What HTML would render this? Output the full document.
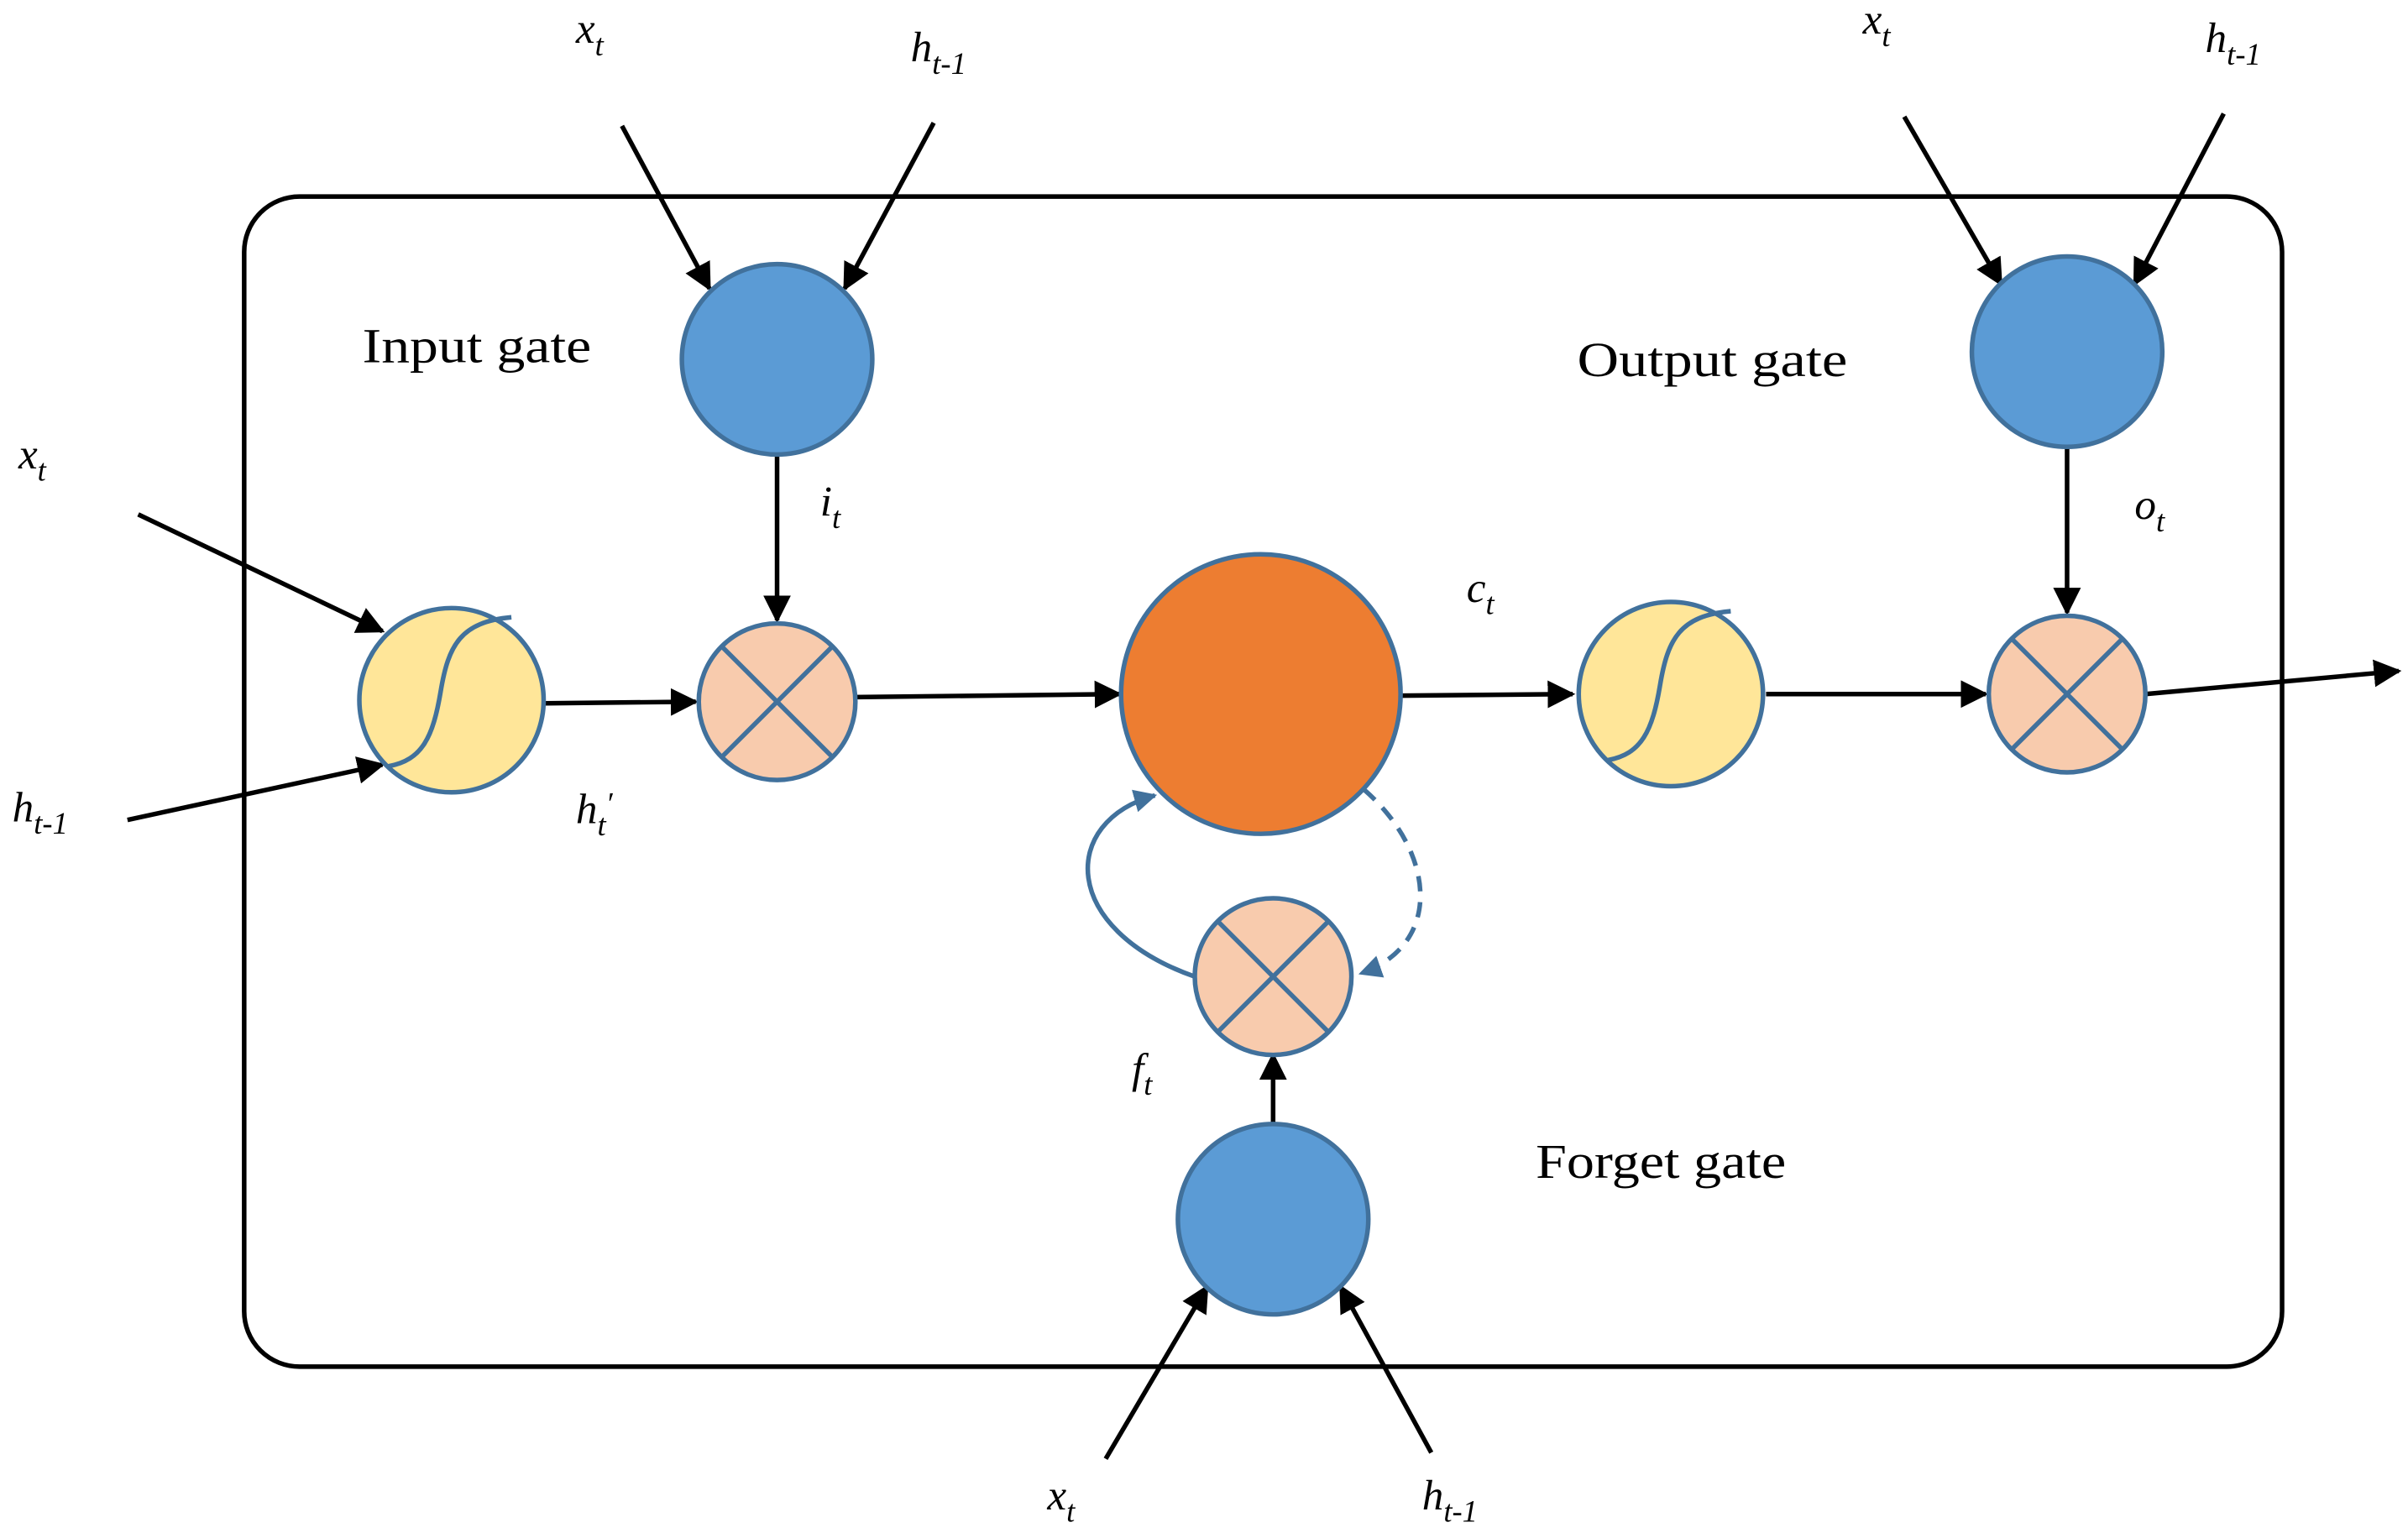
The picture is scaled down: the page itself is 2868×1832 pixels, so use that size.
<!DOCTYPE html>
<html><head><meta charset="utf-8"><style>
html,body{margin:0;padding:0;background:#fff;}
svg{display:block;}
text{font-family:"Liberation Serif",serif;fill:#000;}
.it{font-style:italic;font-size:28px;}
.sub{font-style:italic;font-size:20px;}
.lab{font-size:32px;}
</style></head><body>
<svg width="2868" height="1832" viewBox="0 0 1568 1001.6" preserveAspectRatio="none" xmlns="http://www.w3.org/2000/svg">
<defs>
<marker id="ah" viewBox="0 0 10 10" refX="9" refY="5" markerWidth="6" markerHeight="6" orient="auto" markerUnits="strokeWidth"><path d="M0,0 L10,5 L0,10 z" fill="#000"/></marker>
<marker id="bh" viewBox="0 0 10 10" refX="9" refY="5" markerWidth="5" markerHeight="5" orient="auto" markerUnits="strokeWidth"><path d="M0,0 L10,5 L0,10 z" fill="#41719C"/></marker>
</defs>
<rect x="159" y="128" width="1327" height="762" rx="36" fill="none" stroke="#000" stroke-width="3"/>

<g stroke="#000" stroke-width="3" marker-end="url(#ah)">
<line x1="405" y1="82" x2="462" y2="188"/>
<line x1="608" y1="80" x2="550" y2="188"/>
<line x1="90" y1="335" x2="249" y2="411"/>
<line x1="83" y1="534" x2="249" y2="498"/>
<line x1="355" y1="458" x2="453" y2="457"/>
<line x1="506" y1="296" x2="506" y2="404"/>
<line x1="557" y1="454" x2="729" y2="452"/>
<line x1="912" y1="453" x2="1024" y2="452"/>
<line x1="1150" y1="452" x2="1293" y2="452"/>
<line x1="1346" y1="291" x2="1346" y2="399"/>
<line x1="1397" y1="452" x2="1562" y2="437"/>
<line x1="1240" y1="76" x2="1303" y2="185"/>
<line x1="1448" y1="74" x2="1390" y2="185"/>
<line x1="720" y1="950" x2="786" y2="838"/>
<line x1="932" y1="946" x2="873" y2="838"/>
<line x1="829" y1="733" x2="829" y2="687"/>
</g>

<path d="M778,636 C690,605 690,535 752,518" fill="none" stroke="#41719C" stroke-width="3" marker-end="url(#bh)"/>
<path d="M888,514 C935,555 940,615 886,634" fill="none" stroke="#41719C" stroke-width="3" stroke-dasharray="10,7" marker-end="url(#bh)"/>

<g stroke="#41719C" stroke-width="3">
<circle cx="506" cy="234" r="62" fill="#5B9BD5"/>
<circle cx="1346" cy="229" r="62" fill="#5B9BD5"/>
<circle cx="829" cy="794" r="62" fill="#5B9BD5"/>
<circle cx="821" cy="452" r="91" fill="#ED7D31"/>
<circle cx="294" cy="456" r="60" fill="#FFE699"/>
<circle cx="1088" cy="452" r="60" fill="#FFE699"/>
<path d="M253,499 C275,495 282,480 287,450 C292,420 300,405 333,402" fill="none"/>
<path d="M1047,495 C1069,491 1076,476 1081,446 C1086,416 1094,401 1127,398" fill="none"/>
<circle cx="506" cy="457" r="51" fill="#F8CBAD"/>
<circle cx="1346" cy="452" r="51" fill="#F8CBAD"/>
<circle cx="829" cy="636" r="51" fill="#F8CBAD"/>
<path d="M470,421 L542,493 M542,421 L470,493"/>
<path d="M1310,416 L1382,488 M1382,416 L1310,488"/>
<path d="M793,600 L865,672 M865,600 L793,672"/>
</g>

<text class="lab" x="236" y="236" textLength="149" lengthAdjust="spacingAndGlyphs">Input gate</text>
<text class="lab" x="1027" y="245" textLength="176" lengthAdjust="spacingAndGlyphs">Output gate</text>
<text class="lab" x="1000" y="767" textLength="163" lengthAdjust="spacingAndGlyphs">Forget gate</text>

<text x="375" y="28"><tspan class="it">x</tspan><tspan class="sub" dy="8">t</tspan></text>
<text x="593" y="40"><tspan class="it">h</tspan><tspan class="sub" dy="8">t-1</tspan></text>
<text x="12" y="305"><tspan class="it">x</tspan><tspan class="sub" dy="8">t</tspan></text>
<text x="8" y="535"><tspan class="it">h</tspan><tspan class="sub" dy="8">t-1</tspan></text>
<text x="534" y="336"><tspan class="it">i</tspan><tspan class="sub" dy="8">t</tspan></text>
<text x="375" y="536"><tspan class="it">h</tspan><tspan class="sub" dy="8">t</tspan><tspan class="sub" dy="-14">′</tspan></text>
<text x="955" y="392"><tspan class="it">c</tspan><tspan class="sub" dy="8">t</tspan></text>
<text x="1390" y="338"><tspan class="it">o</tspan><tspan class="sub" dy="8">t</tspan></text>
<text x="737" y="705"><tspan class="it">f</tspan><tspan class="sub" dy="8">t</tspan></text>
<text x="682" y="983"><tspan class="it">x</tspan><tspan class="sub" dy="8">t</tspan></text>
<text x="926" y="983"><tspan class="it">h</tspan><tspan class="sub" dy="8">t-1</tspan></text>
<text x="1213" y="22"><tspan class="it">x</tspan><tspan class="sub" dy="8">t</tspan></text>
<text x="1436" y="34"><tspan class="it">h</tspan><tspan class="sub" dy="8">t-1</tspan></text>
</svg>
</body></html>
